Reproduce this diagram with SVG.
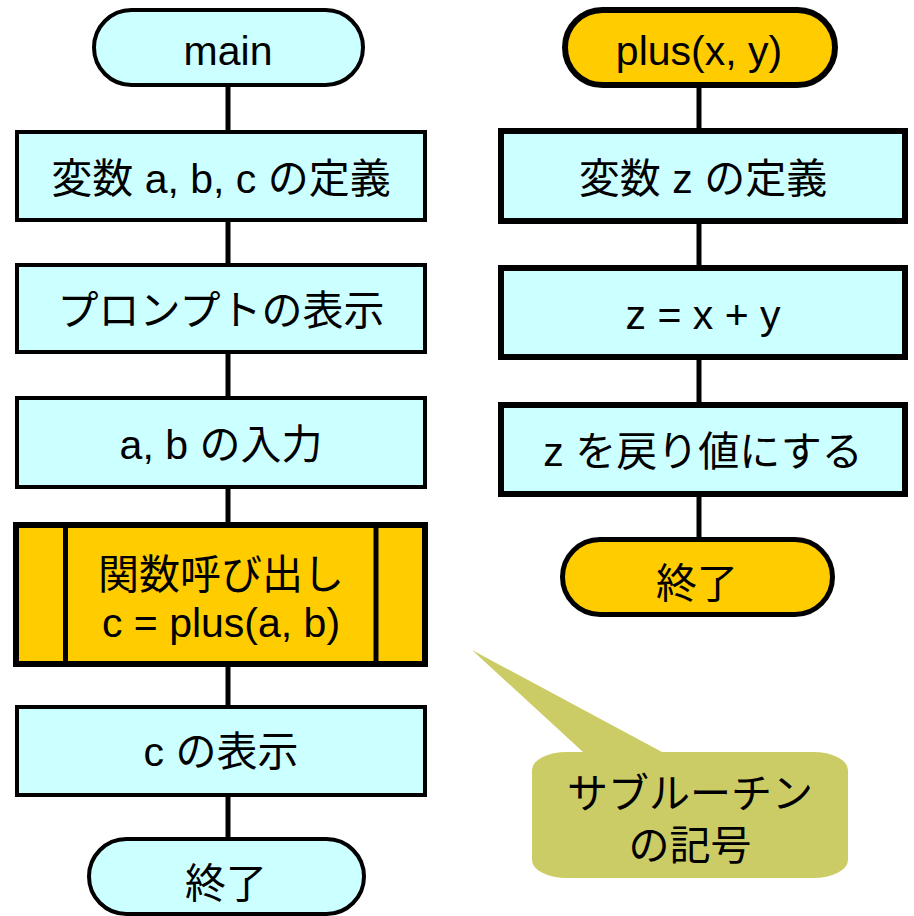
<svg xmlns="http://www.w3.org/2000/svg" width="914" height="916" viewBox="0 0 914 916">
<style>
text{font-family:"Liberation Sans","Noto Sans CJK JP",sans-serif;font-size:41px;fill:#000;text-anchor:middle}
.cy{fill:#CCFFFF;stroke:#000}
.or{fill:#FFCC00;stroke:#000}
.l4{stroke-width:4}
.l6{stroke-width:6}
.con line{stroke:#000;stroke-width:5}
</style>
<rect width="914" height="916" fill="#fff"/>
<g class="con">
<line x1="228" y1="86" x2="228" y2="131"/>
<line x1="228" y1="221" x2="228" y2="264"/>
<line x1="228" y1="352" x2="228" y2="397"/>
<line x1="228" y1="488" x2="228" y2="523"/>
<line x1="228" y1="665" x2="228" y2="706"/>
<line x1="228" y1="796" x2="228" y2="838"/>
<line x1="699" y1="86" x2="699" y2="129"/>
<line x1="699" y1="222" x2="699" y2="266"/>
<line x1="699" y1="358" x2="699" y2="403"/>
<line x1="699" y1="495" x2="699" y2="538"/>
</g>
<g id="main-start"><rect class="cy l4" x="94" y="10" width="269" height="75" rx="37.5"/><text x="228" y="65">main</text></g>
<g id="def-abc"><rect class="cy l4" x="17" y="132" width="408" height="88"/><text x="221" y="193">変数 a, b, c の定義</text></g>
<g id="prompt"><rect class="cy l4" x="17" y="265" width="408" height="87"/><text x="221" y="325">プロンプトの表示</text></g>
<g id="input"><rect class="cy l4" x="17" y="398" width="408" height="89"/><text x="221" y="459">a, b の入力</text></g>
<g id="call"><rect class="or l6" x="16" y="525" width="409" height="139"/><line x1="65.5" y1="525" x2="65.5" y2="664" stroke="#000" stroke-width="5"/><line x1="376" y1="525" x2="376" y2="664" stroke="#000" stroke-width="5"/><text x="221" y="589">関数呼び出し</text><text x="221" y="637">c = plus(a, b)</text></g>
<g id="show-c"><rect class="cy l4" x="17" y="707" width="408" height="88"/><text x="221" y="766">c の表示</text></g>
<g id="main-end"><rect class="cy l4" x="89" y="839" width="275" height="75" rx="37.5"/><text x="226" y="898">終了</text></g>
<g id="plus-start"><rect class="or l6" x="565" y="10" width="270" height="75" rx="37.5"/><text x="699" y="65">plus(x, y)</text></g>
<g id="def-z"><rect class="cy l6" x="501" y="131" width="404" height="90"/><text x="703" y="193">変数 z の定義</text></g>
<g id="calc"><rect class="cy l6" x="501" y="268" width="404" height="89"/><text x="703" y="329">z = x + y</text></g>
<g id="return"><rect class="cy l6" x="501" y="405" width="404" height="89"/><text x="703" y="466">z を戻り値にする</text></g>
<g id="plus-end"><rect class="or" stroke-width="5" x="562.5" y="539.5" width="270" height="75" rx="37.5"/><text x="697" y="598">終了</text></g>
<g id="callout"><path d="M583,752 L472,650 L662,752 L813,752 A35,18 0 0 1 848,770 L848,860 A35,18 0 0 1 813,878 L567,878 A35,18 0 0 1 532,860 L532,770 A35,18 0 0 1 567,752 Z" fill="#CCCC66"/><text x="690" y="808">サブルーチン</text><text x="690" y="860">の記号</text></g>
</svg>
